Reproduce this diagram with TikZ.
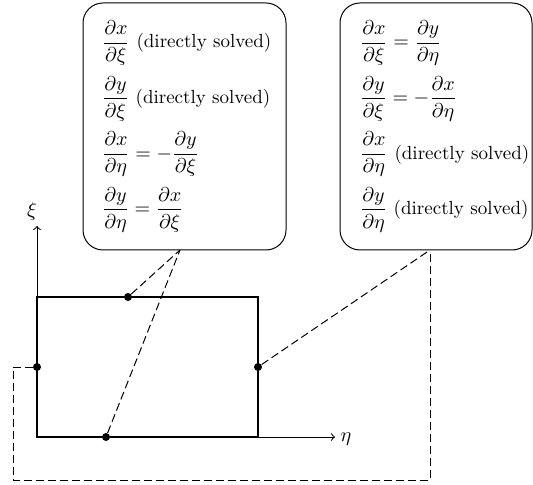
\documentclass[tikz,border=0pt]{standalone}
\usepackage{amsmath}
\newcommand{\solvedtxt}{\text{\fontsize{9.5pt}{11pt}\selectfont(directly solved)}}
\begin{document}
\begin{tikzpicture}[
      x=0.5pt, y=-0.5pt,
      box/.style={draw, rounded corners=10pt, line width=0.5pt, minimum height=123.5pt, inner sep=0pt},
      eqs/.style={anchor=west, inner sep=0pt},
      side/.style={line width=0.8pt},
      axis/.style={->, line width=0.5pt},
      link/.style={line width=0.5pt, dash pattern=on 4pt off 2pt},
      dot/.style={circle, fill, inner sep=0pt, minimum size=4pt}
    ]
    \useasboundingbox (0,0) rectangle (533,485);

    % boxes with the derivatives
    \node[box, minimum width=101.5pt] (lbox) at (184.5,126.5) {};
    \node[eqs] (leqs) at ([xshift=9.5pt]lbox.west) {$\begin{array}{@{}l@{}}
        \dfrac{\partial x}{\partial \xi}~\solvedtxt\\[10.5pt]
        \dfrac{\partial y}{\partial \xi}~\solvedtxt\\[10.5pt]
        \dfrac{\partial x}{\partial \eta} = -\dfrac{\partial y}{\partial \xi}\\[10.5pt]
        \dfrac{\partial y}{\partial \eta} = \dfrac{\partial x}{\partial \xi}
      \end{array}$};
    \node[box, minimum width=96pt] (rbox) at (436,126.5) {};
    \node[eqs] (reqs) at ([xshift=10pt]rbox.west) {$\begin{array}{@{}l@{}}
        \dfrac{\partial x}{\partial \xi} = \dfrac{\partial y}{\partial \eta}\\[10.5pt]
        \dfrac{\partial y}{\partial \xi} = -\dfrac{\partial x}{\partial \eta}\\[10.5pt]
        \dfrac{\partial x}{\partial \eta}~\solvedtxt\\[10.5pt]
        \dfrac{\partial y}{\partial \eta}~\solvedtxt
      \end{array}$};

    % domain and axes
    \coordinate (sw) at (37,437);
    \coordinate (ne) at (258,297);
    \coordinate (xitip) at (37,226);
    \coordinate (etatip) at (335,437);
    \node (xilab) at (32,212) {$\xi$};
    \node (etalab) at (346,439) {$\eta$};
    \draw[axis] (sw) -- (xitip);
    \draw[axis] (sw) -- (etatip);
    \draw[side] (sw) rectangle (ne);

    \node[dot] (ptop) at (128,297) {};
    \node[dot] (pleft) at (37,367) {};
    \node[dot] (pright) at (258,367) {};
    \node[dot] (pbot) at (106,437) {};

    % links to the boxes
    \coordinate (lfoot) at (180,250);
    \coordinate (rfoot) at (430,250);
    \coordinate (corner) at (13,480);
    \draw[link] (ptop) -- (lfoot);
    \draw[link] (pbot) -- (lfoot);
    \draw[link] (pright) -- (rfoot);
    \draw[link] (pleft) -| (corner) -| (rfoot);
  \end{tikzpicture}
\end{document}
